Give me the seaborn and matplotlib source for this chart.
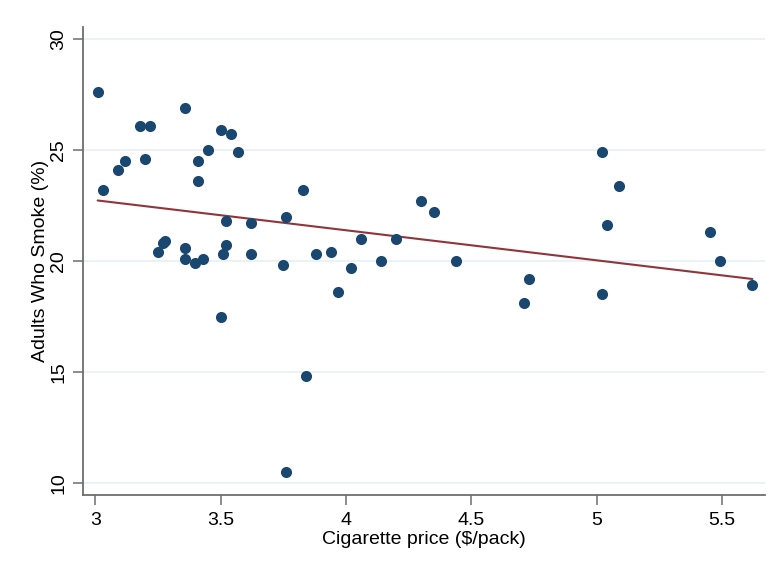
import numpy as np
import pandas as pd
import seaborn as sns
import matplotlib
matplotlib.use("Agg")
import matplotlib.pyplot as plt

price = [3.01, 3.03, 3.09, 3.12, 3.18, 3.22, 3.20, 3.25, 3.27, 3.28,
         3.36, 3.36, 3.36, 3.40, 3.43, 3.41, 3.41, 3.45, 3.50, 3.54,
         3.57, 3.52, 3.52, 3.51, 3.62, 3.62, 3.75, 3.76, 3.50, 3.83,
         3.88, 3.94, 3.97, 4.02, 4.06, 4.14, 4.20, 4.30, 4.35, 4.44,
         4.71, 4.73, 5.02, 5.09, 5.04, 5.02, 5.45, 5.49, 5.62, 3.84,
         3.76]
smoke = [27.6, 23.2, 24.1, 24.5, 26.1, 26.1, 24.6, 20.4, 20.8, 20.9,
         26.9, 20.6, 20.1, 19.9, 20.1, 24.5, 23.6, 25.0, 25.9, 25.7,
         24.9, 21.8, 20.7, 20.3, 21.7, 20.3, 19.8, 22.0, 17.5, 23.2,
         20.3, 20.4, 18.6, 19.7, 21.0, 20.0, 21.0, 22.7, 22.2, 20.0,
         18.1, 19.2, 24.9, 23.4, 21.6, 18.5, 21.3, 20.0, 18.9, 14.8,
         10.5]
x_ticks = [3, 3.5, 4, 4.5, 5, 5.5]
x_tick_labels = ["3", "3.5", "4", "4.5", "5", "5.5"]
y_ticks = [10, 15, 20, 25, 30]
y_tick_labels = ["10", "15", "20", "25", "30"]

df = pd.DataFrame({"price": price, "smoke": smoke})

sns.set_theme(style="white")
plt.rcParams["font.family"] = ["Liberation Sans", "DejaVu Sans"]
plt.rcParams["text.color"] = "black"
plt.rcParams["axes.labelcolor"] = "black"
plt.rcParams["xtick.color"] = "black"
plt.rcParams["ytick.color"] = "black"

fig = plt.figure(figsize=(7.75, 5.74), dpi=100)
ax = fig.add_axes([0.1066, 0.1376, 0.8804, 0.8154])

ax.set_axisbelow(True)
ax.grid(axis="y", color="#eaf2f3", linewidth=1.5)
ax.grid(axis="x", visible=False)

sns.regplot(data=df, x="price", y="smoke", ax=ax, ci=None,
            scatter_kws=dict(s=64, color="#1a476f", linewidths=0, alpha=1, zorder=3),
            line_kws=dict(color="#90353b", linewidth=1.5, zorder=2))

ax.set_xlim(2.95, 5.67)
ax.set_ylim(9.46, 30.54)
ax.set_xticks(x_ticks)
ax.set_xticklabels(x_tick_labels)
ax.set_yticks(y_ticks)
ax.set_yticklabels(y_tick_labels, rotation=90, va="center")

for side in ["top", "right"]:
    ax.spines[side].set_visible(False)
for side in ["left", "bottom"]:
    ax.spines[side].set_color("#6e6e6e")
    ax.spines[side].set_linewidth(1.3)

ax.tick_params(axis="both", which="major", direction="out", length=7,
               width=1.1, color="#6e6e6e", labelcolor="black", labelsize=14,
               pad=5, bottom=True, left=True)
ax.tick_params(axis="y", pad=4)
ax.set_xlabel("Cigarette price ($/pack)", fontsize=14, labelpad=1.5, color="black")
ax.set_ylabel("Adults Who Smoke (%)", fontsize=14, labelpad=1, color="black")

fig.savefig("out.png", dpi=100, facecolor="white")
